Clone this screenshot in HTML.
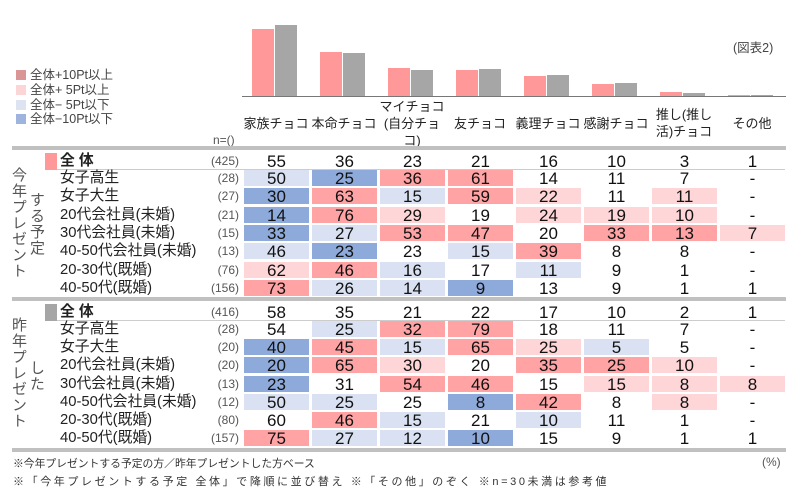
<!DOCTYPE html>
<html><head><meta charset="utf-8"><style>
*{margin:0;padding:0;box-sizing:border-box}
body{width:799px;height:490px;background:#fff;position:relative;overflow:hidden;font-family:"Liberation Sans","Noto Sans CJK JP",sans-serif;color:#222}
.a{position:absolute}
.row{position:absolute;left:0;width:799px;height:16px}
.lb{position:absolute;left:60px;top:-1px;font-size:14.8px;line-height:18px;color:#222;white-space:nowrap}
.n{position:absolute;right:560px;top:0;font-size:12px;line-height:17px;color:#555}
.cs{position:absolute;left:244px;top:0;display:flex;gap:3px}
.cs div{width:65px;height:16px;font-size:17px;line-height:17px;text-align:center;color:#111}
.P{background:#ffa3a5}.p{background:#fed6d8}.b{background:#d9e1f2}.B{background:#8eaadb}
.hd{position:absolute;top:98px;height:50px;width:68px;display:flex;align-items:center;justify-content:center;text-align:center;font-size:13px;line-height:17px;color:#222}
.bar{position:absolute;width:22px}
.pk{background:#ff9999}.gy{background:#a6a6a6}
.vt{position:absolute;writing-mode:vertical-rl;font-size:15px;line-height:16px;color:#555;letter-spacing:1px}
.lg{position:absolute;left:16px;width:10px;height:10px}
.lt{position:absolute;left:30px;font-size:12.5px;line-height:14px;color:#444}
.hl{position:absolute;left:12px;width:774px;height:4px;background:#c0c0c0}
</style></head><body>

<div class="a" style="left:733px;top:37px;font-size:12.5px;color:#444">(図表2)</div>

<div class="lg" style="top:70px;background:#d99694"></div><div class="lt" style="top:68px">全体+10Pt以上</div>
<div class="lg" style="top:85px;background:#fcd5d6"></div><div class="lt" style="top:83px">全体+ 5Pt以上</div>
<div class="lg" style="top:100px;background:#dde3f1"></div><div class="lt" style="top:98px">全体− 5Pt以下</div>
<div class="lg" style="top:114px;background:#9eb3de"></div><div class="lt" style="top:112px">全体−10Pt以下</div>

<div class="a" style="left:242px;top:96px;width:544px;height:1px;background:#777"></div>
<div class="bar pk" style="left:252px;top:29px;height:67px"></div><div class="bar gy" style="left:275px;top:25px;height:71px"></div>
<div class="bar pk" style="left:320px;top:52px;height:44px"></div><div class="bar gy" style="left:343px;top:53px;height:43px"></div>
<div class="bar pk" style="left:388px;top:68px;height:28px"></div><div class="bar gy" style="left:411px;top:70px;height:26px"></div>
<div class="bar pk" style="left:456px;top:70px;height:26px"></div><div class="bar gy" style="left:479px;top:69px;height:27px"></div>
<div class="bar pk" style="left:524px;top:76px;height:20px"></div><div class="bar gy" style="left:547px;top:75px;height:21px"></div>
<div class="bar pk" style="left:592px;top:84px;height:12px"></div><div class="bar gy" style="left:615px;top:83px;height:13px"></div>
<div class="bar pk" style="left:660px;top:92px;height:4px"></div><div class="bar gy" style="left:683px;top:93px;height:3px"></div>
<div class="bar pk" style="left:728px;top:95px;height:1px"></div><div class="bar gy" style="left:751px;top:95px;height:1px"></div>

<div class="hd" style="left:242px">家族チョコ</div>
<div class="hd" style="left:310px">本命チョコ</div>
<div class="hd" style="left:378px">マイチョコ<br>(自分チョ<br>コ)</div>
<div class="hd" style="left:446px">友チョコ</div>
<div class="hd" style="left:514px">義理チョコ</div>
<div class="hd" style="left:582px">感謝チョコ</div>
<div class="hd" style="left:650px">推し(推し<br>活)チョコ</div>
<div class="hd" style="left:718px">その他</div>
<div class="a" style="left:213px;top:133px;font-size:12px;color:#555">n=()</div>

<div class="hl" style="top:146px"></div>
<div class="hl" style="top:297px"></div>
<div class="hl" style="top:448px"></div>

<div class="a" style="left:45px;top:153px;width:12px;height:17px;background:#ff9999"></div>
<div class="a" style="left:57px;top:169px;width:728px;height:1px;background:#ccc"></div>
<div class="vt" style="left:10px;top:167px">今年プレゼント</div>
<div class="vt" style="left:28px;top:192px">する予定</div>

<div class="row" style="top:153px"><div class="lb" style="font-weight:bold">全 体</div><div class="n">(425)</div><div class="cs"><div>55</div><div>36</div><div>23</div><div>21</div><div>16</div><div>10</div><div>3</div><div>1</div></div></div>
<div class="row" style="top:170px"><div class="lb">女子高生</div><div class="n">(28)</div><div class="cs"><div class="b">50</div><div class="B">25</div><div class="P">36</div><div class="P">61</div><div>14</div><div>11</div><div>7</div><div>-</div></div></div>
<div class="row" style="top:188.3px"><div class="lb">女子大生</div><div class="n">(27)</div><div class="cs"><div class="B">30</div><div class="P">63</div><div class="b">15</div><div class="P">59</div><div class="p">22</div><div>11</div><div class="p">11</div><div>-</div></div></div>
<div class="row" style="top:206.7px"><div class="lb">20代会社員(未婚)</div><div class="n">(21)</div><div class="cs"><div class="B">14</div><div class="P">76</div><div class="p">29</div><div>19</div><div class="p">24</div><div class="p">19</div><div class="p">10</div><div>-</div></div></div>
<div class="row" style="top:225px"><div class="lb">30代会社員(未婚)</div><div class="n">(15)</div><div class="cs"><div class="B">33</div><div class="b">27</div><div class="P">53</div><div class="P">47</div><div>20</div><div class="P">33</div><div class="P">13</div><div class="p">7</div></div></div>
<div class="row" style="top:243.3px"><div class="lb">40-50代会社員(未婚)</div><div class="n">(13)</div><div class="cs"><div class="b">46</div><div class="B">23</div><div>23</div><div class="b">15</div><div class="P">39</div><div>8</div><div>8</div><div>-</div></div></div>
<div class="row" style="top:261.7px"><div class="lb">20-30代(既婚)</div><div class="n">(76)</div><div class="cs"><div class="p">62</div><div class="P">46</div><div class="b">16</div><div>17</div><div class="b">11</div><div>9</div><div>1</div><div>-</div></div></div>
<div class="row" style="top:280px"><div class="lb">40-50代(既婚)</div><div class="n">(156)</div><div class="cs"><div class="P">73</div><div class="b">26</div><div class="b">14</div><div class="B">9</div><div>13</div><div>9</div><div>1</div><div>1</div></div></div>

<div class="a" style="left:45px;top:304px;width:12px;height:17px;background:#a6a6a6"></div>
<div class="a" style="left:57px;top:320px;width:728px;height:1px;background:#ccc"></div>
<div class="vt" style="left:10px;top:317px">昨年プレゼント</div>
<div class="vt" style="left:28px;top:360px">した</div>

<div class="row" style="top:304px"><div class="lb" style="font-weight:bold">全 体</div><div class="n">(416)</div><div class="cs"><div>58</div><div>35</div><div>21</div><div>22</div><div>17</div><div>10</div><div>2</div><div>1</div></div></div>
<div class="row" style="top:321px"><div class="lb">女子高生</div><div class="n">(28)</div><div class="cs"><div>54</div><div class="b">25</div><div class="P">32</div><div class="P">79</div><div>18</div><div>11</div><div>7</div><div>-</div></div></div>
<div class="row" style="top:339.2px"><div class="lb">女子大生</div><div class="n">(20)</div><div class="cs"><div class="B">40</div><div class="P">45</div><div class="b">15</div><div class="P">65</div><div class="p">25</div><div class="b">5</div><div>5</div><div>-</div></div></div>
<div class="row" style="top:357.3px"><div class="lb">20代会社員(未婚)</div><div class="n">(20)</div><div class="cs"><div class="B">20</div><div class="P">65</div><div class="p">30</div><div>20</div><div class="P">35</div><div class="P">25</div><div class="p">10</div><div>-</div></div></div>
<div class="row" style="top:375.5px"><div class="lb">30代会社員(未婚)</div><div class="n">(13)</div><div class="cs"><div class="B">23</div><div>31</div><div class="P">54</div><div class="P">46</div><div>15</div><div class="p">15</div><div class="p">8</div><div class="p">8</div></div></div>
<div class="row" style="top:393.7px"><div class="lb">40-50代会社員(未婚)</div><div class="n">(12)</div><div class="cs"><div class="b">50</div><div class="b">25</div><div>25</div><div class="B">8</div><div class="P">42</div><div>8</div><div class="p">8</div><div>-</div></div></div>
<div class="row" style="top:411.8px"><div class="lb">20-30代(既婚)</div><div class="n">(80)</div><div class="cs"><div>60</div><div class="P">46</div><div class="b">15</div><div>21</div><div class="b">10</div><div>11</div><div>1</div><div>-</div></div></div>
<div class="row" style="top:430px"><div class="lb">40-50代(既婚)</div><div class="n">(157)</div><div class="cs"><div class="P">75</div><div class="b">27</div><div class="b">12</div><div class="B">10</div><div>15</div><div>9</div><div>1</div><div>1</div></div></div>

<div class="a" style="left:13px;top:455px;font-size:10.8px;color:#333;white-space:nowrap">※今年プレゼントする予定の方／昨年プレゼントした方ベース</div>
<div class="a" style="left:13px;top:473px;font-size:11px;letter-spacing:2.6px;color:#333;white-space:nowrap">※「今年プレゼントする予定 全体」で降順に並び替え ※「その他」のぞく ※n=30未満は参考値</div>
<div class="a" style="left:762px;top:455px;font-size:12px;color:#555">(%)</div>
</body></html>
